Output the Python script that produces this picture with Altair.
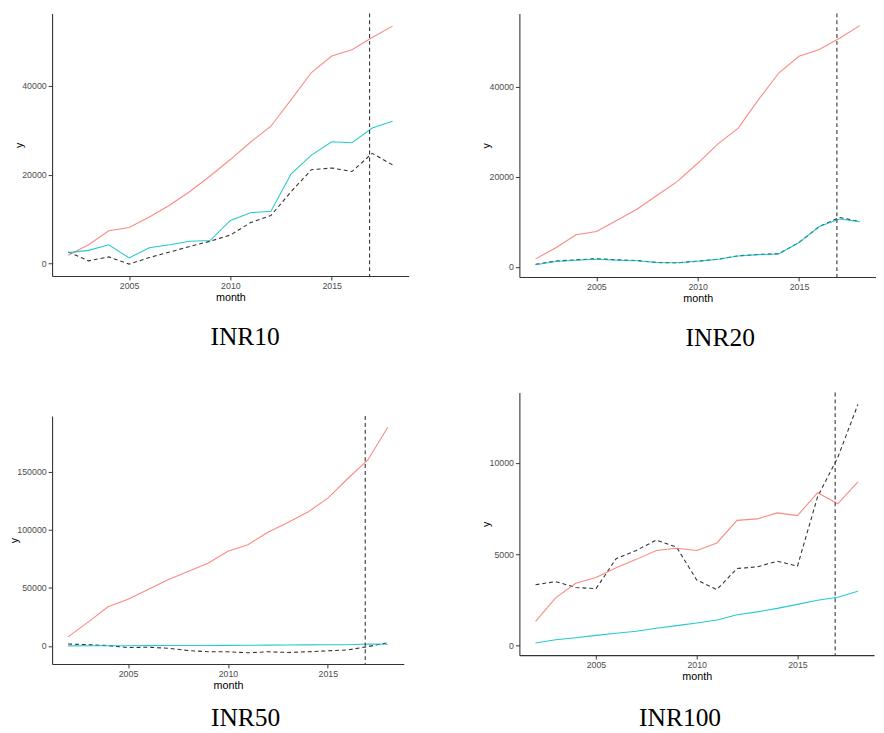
import altair as alt
import pandas as pd

years = list(range(2002, 2019))
vline_month = 2016.87

inr10_red = [1840, 4200, 7350, 8100, 10450, 13100, 16200, 19700, 23400, 27350, 30900, 36900, 43000, 46700, 48150, 50900, 53450]
inr10_cyan = [2430, 2940, 4200, 1250, 3530, 4200, 5000, 5150, 9700, 11400, 11760, 20200, 24400, 27400, 27200, 30500, 32000]
inr10_dash = [2570, 590, 1470, -150, 1320, 2570, 3820, 5000, 6400, 9200, 10800, 16200, 21100, 21500, 20700, 24800, 22200]

inr20_red = [1810, 4280, 7170, 7900, 10300, 12800, 15900, 19000, 23000, 27300, 30800, 37100, 43000, 46700, 48200, 50700, 53500]
inr20_cyan = [500, 1230, 1500, 1740, 1520, 1380, 1010, 940, 1300, 1740, 2460, 2750, 2900, 5430, 8990, 10650, 10070]
inr20_dash = [600, 1350, 1600, 1850, 1600, 1450, 1010, 940, 1300, 1740, 2500, 2800, 2950, 5430, 8990, 11000, 10070]

inr50_red = [7860, 20500, 33700, 40200, 48600, 57000, 64000, 71100, 81500, 87100, 97800, 106200, 115200, 127200, 144100, 160100, 188200]
inr50_cyan = [100, 150, 200, 250, 300, 350, 400, 450, 500, 550, 700, 800, 900, 1000, 1100, 1700, 1400]
inr50_dash = [1700, 1100, 280, -1400, -1100, -2000, -3900, -5000, -5000, -5900, -5000, -5600, -5000, -4200, -3400, -560, 2800]

inr100_red = [1310, 2600, 3400, 3710, 4250, 4710, 5200, 5320, 5200, 5610, 6850, 6930, 7260, 7110, 8370, 7760, 8960]
inr100_cyan = [125, 300, 410, 540, 660, 770, 930, 1075, 1220, 1380, 1670, 1830, 2020, 2240, 2470, 2630, 2960]
inr100_dash = [3320, 3490, 3170, 3100, 4750, 5200, 5770, 5380, 3580, 3050, 4210, 4300, 4610, 4340, 8150, 10300, 13210]

x_ticks = [2005, 2010, 2015]
x_domain = [2001.2, 2018.8]


def panel(red, cyan, dash, ydomain, yticks, w, h, title, dx, offset):
    df = pd.DataFrame({
        "month": years + years,
        "y": red + cyan,
        "series": ["red"] * len(years) + ["cyan"] * len(years),
    })
    dfd = pd.DataFrame({"month": years, "y": dash})
    dfv = pd.DataFrame({"month": [vline_month]})
    xs = alt.Scale(domain=x_domain, nice=False, zero=False)
    ys = alt.Scale(domain=ydomain, nice=False, zero=False)
    xax = alt.Axis(values=x_ticks, format="d", title="month")
    yax = alt.Axis(values=yticks, format="d", title="y")
    x = alt.X("month:Q", scale=xs, axis=xax)
    y = alt.Y("y:Q", scale=ys, axis=yax)
    dashed = alt.Chart(dfd).mark_line(color="#333333", strokeDash=[4, 3], strokeWidth=1.1).encode(x=x, y=y)
    lines = alt.Chart(df).mark_line(strokeWidth=1.1, opacity=0.85).encode(
        x=x, y=y,
        color=alt.Color("series:N", scale=alt.Scale(domain=["red", "cyan"], range=["#F8766D", "#00BFC4"]), legend=None),
    )
    rule = alt.Chart(dfv).mark_rule(color="#333333", strokeDash=[4, 3], strokeWidth=1.1).encode(x=alt.X("month:Q"))
    return alt.layer(dashed, lines, rule).properties(
        width=w, height=h,
        title=alt.TitleParams(title, orient="bottom", font="Liberation Serif", fontSize=26,
                              fontWeight="normal", color="black", offset=offset, dx=dx, frame="group"),
    )


p1 = panel(inr10_red, inr10_cyan, inr10_dash, [-2830, 56300], [0, 20000, 40000], 364, 268, "INR10", 15, 22)
p2 = panel(inr20_red, inr20_cyan, inr20_dash, [-2200, 56200], [0, 20000, 40000], 364, 269, "INR20", 23, 22)
p3 = panel(inr50_red, inr50_cyan, inr50_dash, [-15500, 197800], [0, 50000, 100000, 150000], 359, 253, "INR50", 18, 15)
p4 = panel(inr100_red, inr100_cyan, inr100_dash, [-545, 13860], [0, 5000, 10000], 362, 268, "INR100", -17, 24)

left = alt.concat(p1, p3, columns=1, align="none", spacing=67)
right = alt.concat(p2, p4, columns=1, align="none", spacing=42)

chart = alt.hconcat(left, right, spacing=73).properties(
    padding={"left": 0, "top": -3, "right": 0, "bottom": 0}
).configure_view(stroke=None).configure_axis(
    grid=False, domainColor="#333333", domainWidth=1.1, tickColor="#333333", tickSize=4, tickWidth=1,
    labelColor="#4d4d4d", labelFont="Liberation Sans", labelFontSize=9, labelPadding=2,
    titleFont="Liberation Sans", titleFontSize=11, titleFontWeight="normal", titleColor="black",
).configure_axisX(titlePadding=1).configure_axisY(titlePadding=-3)

chart.save("out.html", embed_options={"renderer": "svg", "actions": False})
